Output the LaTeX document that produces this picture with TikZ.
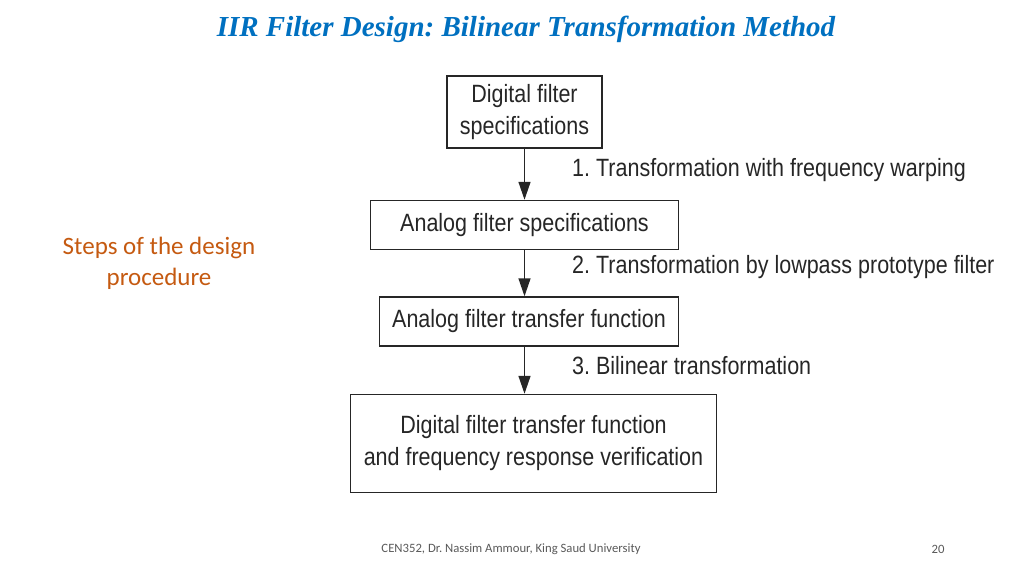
\documentclass[tikz,border=0pt]{standalone}
\usepackage{fontspec}
\setmainfont{Carlito}
\newfontfamily\chartfont[FakeStretch=0.86]{Liberation Sans}
\newfontfamily\titlefont{Liberation Serif}
\usetikzlibrary{positioning,arrows.meta}
\definecolor{TitleBlue}{HTML}{0070C0}
\definecolor{StepOrange}{HTML}{C55A11}
\definecolor{FootGray}{HTML}{595959}
\definecolor{BoxLine}{HTML}{262626}
\frenchspacing

\begin{document}
\begin{tikzpicture}[
      x=1pt, y=-1pt,
      every node/.style={align=center, inner sep=0pt},
      box/.style={draw=BoxLine, line width=1.5pt, text=BoxLine, font=\chartfont\fontsize{25}{32}\selectfont},
      steplabel/.style={anchor=west, text=BoxLine, font=\chartfont\fontsize{25}{32}\selectfont},
      arrow/.style={BoxLine, line width=1.5pt, -{Triangle[length=18pt, width=12pt]}}
    ]
      \useasboundingbox (0,0) rectangle (1024,575);

      % Title
      \node[font=\titlefont\bfseries\itshape\fontsize{29}{34}\selectfont, text=TitleBlue] (title) at (526,29) {IIR Filter Design: Bilinear Transformation Method};

      % Side note
      \node[font=\fontsize{25}{31}\selectfont, text=StepOrange] (note) at (159,263) {Steps of the design\\procedure};

      % Design boxes
      \node[box, minimum width=155pt, minimum height=72pt] (digspec) at (524.5,112) {Digital filter\\specifications};
      \node[box, minimum width=308pt, minimum height=49pt, below=51pt of digspec] (anaspec) {Analog filter specifications};
      \node[box, minimum width=299pt, minimum height=49pt, below=46pt of anaspec, xshift=4.5pt] (anatf) {Analog filter transfer function};
      \node[box, minimum width=366pt, minimum height=98pt, below=47pt of anatf, xshift=4.5pt] (digtf) {Digital filter transfer function\\and frequency response verification};

      % Arrows
      \draw[arrow] (digspec.south) -- (anaspec.north -| digspec.south);
      \draw[arrow] (anaspec.south -| digspec.south) -- (anatf.north -| digspec.south);
      \draw[arrow] (anatf.south -| digspec.south) -- (digtf.north -| digspec.south);

      % Step labels
      \node[steplabel] (step1) at (572,170) {1. Transformation with frequency warping};
      \node[steplabel] (step2) at (572,267) {2. Transformation by lowpass prototype filter};
      \node[steplabel] (step3) at (572,366) {3. Bilinear transformation};

      % Footer
      \node[font=\fontsize{12.7}{14}\selectfont, text=FootGray] (foot) at (511,549) {CEN352, Dr. Nassim Ammour, King Saud University};
      \node[font=\fontsize{12.7}{14}\selectfont, text=FootGray] (page) at (938,549) {20};

    \end{tikzpicture}
\end{document}
